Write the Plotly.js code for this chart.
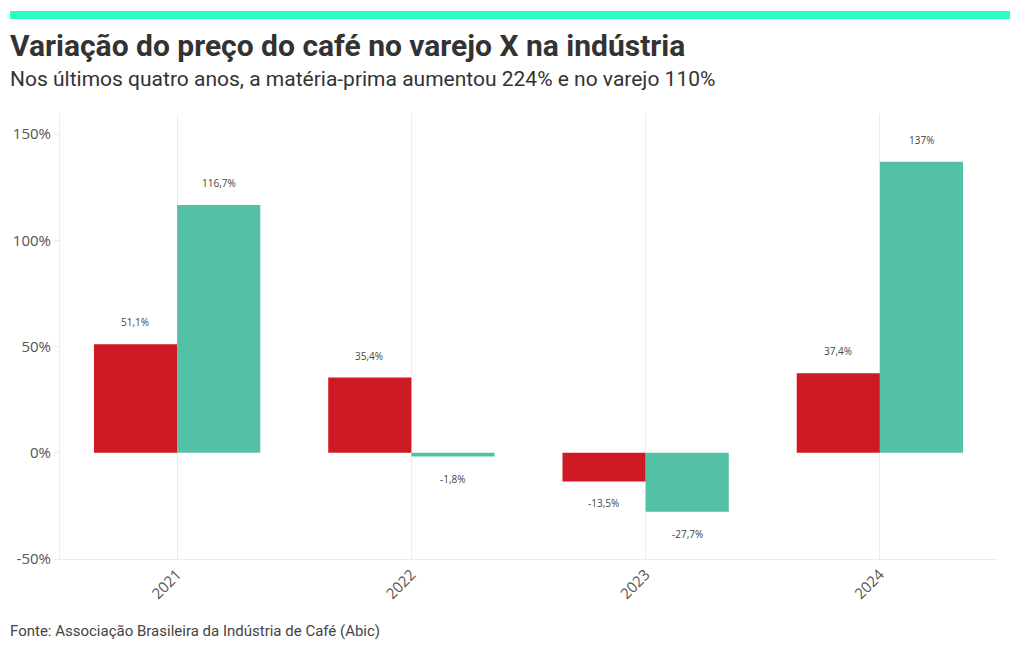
<!DOCTYPE html>
<html>
<head>
<meta charset="utf-8">
<script src="https://cdn.plot.ly/plotly-3.0.1.min.js"></script>
<style>
  html, body { margin: 0; padding: 0; background: #fff; }
  #chart { width: 1020px; height: 650px; }
</style>
</head>
<body>
<div id="chart"></div>
<script>
const YEARS = ["2021", "2022", "2023", "2024"];
const INDUSTRIA = [51.1, 35.4, -13.5, 37.4];
const VAREJO = [116.7, -1.8, -27.7, 137];
const INDUSTRIA_LABELS = ["51,1%", "35,4%", "-13,5%", "37,4%"];
const VAREJO_LABELS = ["116,7%", "-1,8%", "-27,7%", "137%"];
const Y_TICKS = [-50, 0, 50, 100, 150];
const Y_TICK_TEXT = ["-50%", "0%", "50%", "100%", "150%"];

const COLORS = {
  industria: "#ce1a25",
  varejo: "#54c1a6",
  accent: "#2cfcc4",
  text: "#333333",
  tick: "#555555",
  grid: "#ececec",
};

const FONT = "Open Sans, sans-serif";

const traces = [
  {
    x: YEARS,
    y: INDUSTRIA,
    type: "bar",
    name: "Indústria",
    marker: { color: COLORS.industria },
    hoverinfo: "skip",
  },
  {
    x: YEARS,
    y: VAREJO,
    type: "bar",
    name: "Varejo",
    marker: { color: COLORS.varejo },
    hoverinfo: "skip",
  },
];

// value labels above (or below) each bar; x is the category index
function barLabels(values, labels, xshift) {
  return values.map((v, i) => ({
    x: i,
    y: v,
    xref: "x",
    yref: "y",
    text: labels[i],
    showarrow: false,
    xshift: xshift,
    yshift: v >= 0 ? 22 : -22,
    font: { family: FONT, size: 10, color: "#444" },
  }));
}

const annotations = [
  ...barLabels(INDUSTRIA, INDUSTRIA_LABELS, -42),
  ...barLabels(VAREJO, VAREJO_LABELS, 42),
  {
    text: "Nos últimos quatro anos, a matéria-prima aumentou 224% e no varejo 110%",
    xref: "paper", yref: "paper",
    x: -52 / 937, y: 1 + 35 / 445,
    xanchor: "left", yanchor: "middle",
    showarrow: false,
    font: { family: "Roboto, sans-serif", size: 21, color: COLORS.text },
  },
  {
    text: "Fonte: Associação Brasileira da Indústria de Café (Abic)",
    xref: "paper", yref: "paper",
    x: -52 / 937, y: -72 / 445,
    xanchor: "left", yanchor: "middle",
    showarrow: false,
    font: { family: "Roboto, sans-serif", size: 15, color: "#444" },
  },
];

const layout = {
  width: 1020,
  height: 650,
  margin: { t: 114, r: 23, b: 91, l: 60 },
  paper_bgcolor: "#fff",
  plot_bgcolor: "#fff",
  font: { family: FONT, color: COLORS.tick },
  showlegend: false,
  barmode: "group",
  bargap: 0.29,
  bargroupgap: 0,
  title: {
    text: "<b>Variação do preço do café no varejo X na indústria</b>",
    x: 10 / 1020,
    xanchor: "left",
    y: 1 - 45 / 650,
    yanchor: "middle",
    font: { family: "Roboto, sans-serif", size: 30, color: COLORS.text },
  },
  xaxis: {
    type: "category",
    range: [-0.5, 3.5],
    tickangle: -45,
    tickfont: { family: FONT, size: 15, color: COLORS.tick },
    showgrid: true,
    gridcolor: COLORS.grid,
    showline: true,
    linecolor: COLORS.grid,
    ticks: "",
    zeroline: false,
  },
  yaxis: {
    range: [-50, 159.5],
    tickmode: "array",
    tickvals: Y_TICKS,
    ticktext: Y_TICK_TEXT,
    tickfont: { family: FONT, size: 15, color: COLORS.tick },
    showgrid: false,
    zeroline: false,
    showline: true,
    linecolor: COLORS.grid,
    ticks: "outside",
    ticklen: 5,
    tickcolor: COLORS.grid,
  },
  shapes: [
    {
      type: "rect",
      xref: "paper", yref: "paper",
      x0: -50 / 937, x1: 950 / 937,
      y0: 1 + 95 / 445, y1: 1 + 103 / 445,
      fillcolor: COLORS.accent,
      line: { width: 0 },
    },
  ],
  annotations: annotations,
};

Plotly.newPlot("chart", traces, layout, { displayModeBar: false, staticPlot: true });
</script>
</body>
</html>
